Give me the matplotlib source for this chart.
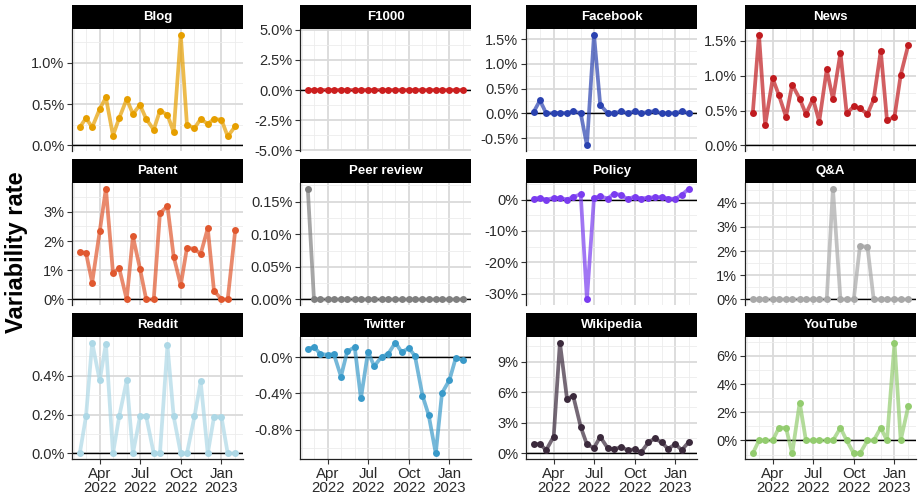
import matplotlib
matplotlib.use('Agg')
import matplotlib.pyplot as plt
import matplotlib.dates as mdates
from matplotlib.ticker import FixedLocator, FuncFormatter
import numpy as np
import datetime as dt

plt.rcParams['font.family'] = ['Liberation Sans', 'DejaVu Sans']

# ---------------- data (values in %) ----------------
dates = ['2022-02-15', '2022-03-01', '2022-03-15', '2022-04-01', '2022-04-15',
         '2022-05-01', '2022-05-15', '2022-06-01', '2022-06-15', '2022-07-01',
         '2022-07-15', '2022-08-01', '2022-08-15', '2022-09-01', '2022-09-15',
         '2022-10-01', '2022-10-15', '2022-11-01', '2022-11-15', '2022-12-01',
         '2022-12-15', '2023-01-01', '2023-01-15', '2023-02-01']

panel_names = ['Blog', 'F1000', 'Facebook', 'News', 'Patent', 'Peer review',
               'Policy', 'Q&A', 'Reddit', 'Twitter', 'Wikipedia', 'YouTube']

blog = [0.22, 0.33, 0.22, 0.44, 0.58, 0.12, 0.33, 0.56, 0.38, 0.49, 0.32, 0.19,
        0.42, 0.37, 0.16, 1.34, 0.25, 0.21, 0.32, 0.26, 0.32, 0.31, 0.11, 0.23]
f1000 = [0.0, 0.0, 0.0, 0.0, 0.0, 0.0, 0.0, 0.0, 0.0, 0.0, 0.0, 0.0,
         0.0, 0.0, 0.0, 0.0, 0.0, 0.0, 0.0, 0.0, 0.0, 0.0, 0.0, 0.0]
facebook = [0.03, 0.26, 0.0, 0.0, 0.01, 0.0, 0.04, 0.0, -0.65, 1.59, 0.17, 0.0,
            0.0, 0.04, 0.0, 0.04, 0.0, 0.03, 0.04, 0.0, 0.0, 0.0, 0.04, 0.0]
news = [0.46, 1.59, 0.29, 0.96, 0.72, 0.41, 0.87, 0.67, 0.45, 0.67, 0.34, 1.09,
        0.66, 1.33, 0.46, 0.56, 0.53, 0.45, 0.66, 1.36, 0.36, 0.41, 1.01, 1.44]
patent = [1.62, 1.60, 0.58, 2.33, 3.80, 0.91, 1.07, 0.0, 2.16, 1.05, 0.0, 0.0,
          2.95, 3.20, 1.47, 0.49, 1.77, 1.73, 1.56, 2.44, 0.30, 0.0, 0.0, 2.37]
peer_review = [0.170, 0.0, 0.0, 0.0, 0.0, 0.0, 0.0, 0.0, 0.0, 0.0, 0.0, 0.0,
               0.0, 0.0, 0.0, 0.0, 0.0, 0.0, 0.0, 0.0, 0.0, 0.0, 0.0, 0.0]
policy = [0.3, 0.5, -0.1, 0.5, 0.5, 0.0, 0.8, 1.7, -31.9, 0.5, 1.05, 0.3,
          1.9, 1.4, 0.1, 0.95, 0.3, 0.6, 0.7, 0.8, 0.3, 0.2, 1.5, 3.5]
qa = [0.0, 0.0, 0.0, 0.0, 0.0, 0.0, 0.0, 0.0, 0.0, 0.0, 0.0, 0.0,
      4.58, 0.0, 0.0, 0.0, 2.21, 2.17, 0.0, 0.0, 0.0, 0.0, 0.0, 0.0]
reddit = [0.0, 0.19, 0.57, 0.375, 0.565, 0.0, 0.19, 0.375, 0.0, 0.19, 0.19, 0.0,
          0.0, 0.555, 0.19, 0.0, 0.0, 0.19, 0.37, 0.0, 0.187, 0.187, 0.0, 0.0]
twitter = [0.088, 0.114, 0.037, 0.026, 0.033, -0.214, 0.063, 0.111, -0.457, 0.059,
           -0.10, 0.007, 0.033, 0.162, 0.055, 0.10, 0.015, -0.424, -0.641, -1.065,
           -0.398, -0.251, -0.011, -0.03]
wikipedia = [0.91, 0.91, 0.33, 1.66, 10.86, 5.35, 5.64, 2.61, 0.88, 0.55, 1.63, 0.52,
             0.39, 0.65, 0.29, 0.42, 0.10, 1.08, 1.47, 1.08, 0.46, 0.91, 0.33, 1.17]
youtube = [-0.92, 0.0, 0.0, 0.0, 0.9, 0.9, -0.92, 2.69, 0.0, 0.0, 0.0, 0.0,
           0.0, 0.9, 0.0, -0.92, -0.92, 0.0, 0.0, 0.9, 0.0, 6.94, 0.0, 2.41]

series = [blog, f1000, facebook, news, patent, peer_review,
          policy, qa, reddit, twitter, wikipedia, youtube]

colors = ['#E69F00', '#CC1F1F', '#2A42B0', '#C01B1F', '#E0582F', '#808080',
          '#7A3CF0', '#A9A9A9', '#ADD8E6', '#3A9AC9', '#3B2A3C', '#93CC6F']

# y tick step and decimals for each facet
tick_steps = [0.5, 2.5, 0.5, 0.5, 1, 0.05, 10, 1, 0.2, 0.4, 3, 2]
tick_decs = [1, 1, 1, 1, 0, 2, 0, 0, 1, 1, 0, 0]

# ---------------- layout ----------------
W, H = 919, 499
fig = plt.figure(figsize=(W / 100, H / 100), dpi=100)
col_left = [72, 300, 526, 745]
pw = 171
row_strip_top = [5, 159, 313]
sh = 24
ph = 122

x = [mdates.date2num(dt.datetime.strptime(d, '%Y-%m-%d')) for d in dates]
xspan = max(x) - min(x)
xlim = (min(x) - 0.05 * xspan, max(x) + 0.05 * xspan)


def make_fmt(dec):
    def f(v, pos):
        if abs(v) < 1e-9:
            v = 0.0
        return f"{v:.{dec}f}%"
    return f


for i, (name, vals, color, step, dec) in enumerate(
        zip(panel_names, series, colors, tick_steps, tick_decs)):
    r, c = divmod(i, 4)
    x0 = col_left[c]
    top = row_strip_top[r] + sh
    ax = fig.add_axes([x0 / W, 1 - (top + ph) / H, pw / W, ph / H])
    sax = fig.add_axes([x0 / W, 1 - top / H, pw / W, sh / H])
    sax.set_facecolor('black')
    sax.set_xticks([])
    sax.set_yticks([])
    for s in sax.spines.values():
        s.set_visible(False)
    sax.text(0.5, 0.5, name, color='white', fontweight='bold', fontsize=9.5,
             ha='center', va='center', transform=sax.transAxes)

    lo = min(min(vals), 0.0)
    hi = max(max(vals), 0.0)
    span = hi - lo
    if span == 0:
        lo, hi = -5.07, 5.07
    else:
        lo -= 0.05 * span
        hi += 0.05 * span
    ax.set_ylim(lo, hi)
    ax.set_xlim(*xlim)

    first = np.ceil(lo / step - 1e-9) * step
    majors = np.arange(first, hi + 1e-9, step)
    minors = np.arange(first - step / 2, hi + 1e-9, step / 2)
    minors = [m for m in minors if lo <= m <= hi and
              not np.any(np.isclose(m, majors, atol=step * 1e-6))]
    ax.yaxis.set_major_locator(FixedLocator(majors))
    ax.yaxis.set_minor_locator(FixedLocator(minors))
    ax.yaxis.set_major_formatter(FuncFormatter(make_fmt(dec)))

    ax.xaxis.set_major_locator(mdates.MonthLocator(bymonth=[1, 4, 7, 10]))
    ax.xaxis.set_minor_locator(mdates.MonthLocator())
    ax.xaxis.set_major_formatter(mdates.DateFormatter('%b\n%Y'))

    ax.grid(which='major', color='#DADADA', lw=1.3)
    ax.grid(which='minor', color='#ECECEC', lw=0.6)
    ax.set_axisbelow(True)

    for s in ['top', 'right']:
        ax.spines[s].set_visible(False)
    ax.spines['left'].set_color('#222222')
    ax.spines['left'].set_linewidth(0.9)
    ax.tick_params(axis='y', which='major', length=3.5, width=0.8, color='#333333',
                   labelsize=10.5, labelcolor='#2a2a2a', pad=2)
    ax.tick_params(axis='y', which='minor', length=0)
    if r < 2:
        ax.spines['bottom'].set_visible(False)
        ax.tick_params(axis='x', which='both', length=0, labelbottom=False)
    else:
        ax.spines['bottom'].set_color('#222222')
        ax.spines['bottom'].set_linewidth(0.9)
        ax.tick_params(axis='x', which='major', length=3.5, width=0.8, color='#333333',
                       labelsize=10.8, labelcolor='#2a2a2a', pad=2.5)
        ax.tick_params(axis='x', which='minor', length=0)
        for lab in ax.get_xticklabels():
            lab.set_linespacing(0.95)

    ax.axhline(0, color='black', lw=1.0, zorder=2)
    ax.plot(x, vals, color=color, lw=2.7, alpha=0.7, zorder=3,
            solid_capstyle='round', solid_joinstyle='round')
    ax.plot(x, vals, 'o', color=color, ms=5, zorder=4, mec='none')

fig.text(17 / W, 1 - 252 / H, 'Variability rate', rotation=90, fontsize=17,
         fontweight='bold', ha='center', va='center')

fig.savefig('out.png', dpi=100)
